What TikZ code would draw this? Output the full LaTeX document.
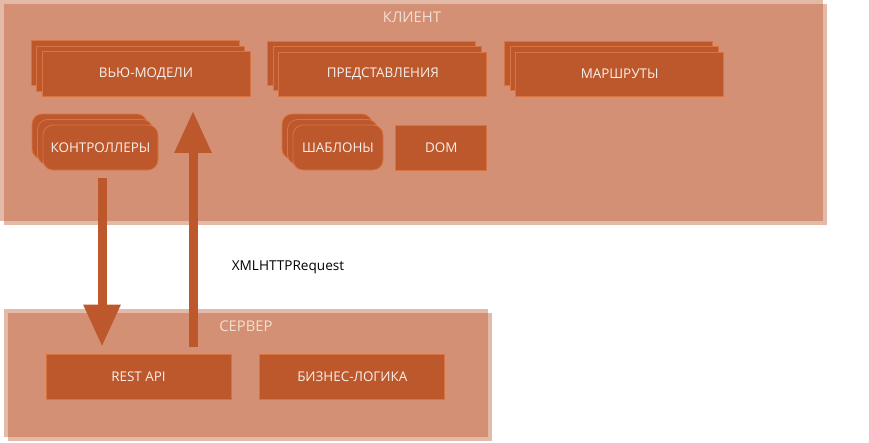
\documentclass[tikz,border=0pt]{standalone}
\usepackage{fontspec}
\setmainfont{Open Sans}
\usetikzlibrary{positioning,arrows.meta,shadows,calc}

\definecolor{rust}{HTML}{BD582D}
\definecolor{rustline}{HTML}{D9733F}
\definecolor{paletext}{HTML}{F8F0EC}
\definecolor{grouptext}{HTML}{F4DED4}

\begin{document}
\begin{tikzpicture}[x=1pt, y=-1pt, node distance=28pt,
		box/.style={draw=rustline, fill=rust, text=paletext, line width=0.8pt,
			minimum width=208pt, minimum height=45pt, inner sep=0pt,
			font=\fontsize{13.4}{15}\selectfont},
		pile/.style={double copy shadow={shadow xshift=-5.5pt, shadow yshift=5.5pt}},
		roundbox/.style={rounded corners=10pt},
		grouplabel/.style={text=grouptext, font=\fontsize{14.8}{17}\selectfont},
		bigarrow/.style={draw=rust, line width=9pt, -{Triangle[width=35pt,length=42pt]}}]
		\useasboundingbox (0,0) rectangle (869,442);

		% groups
		\fill[rust, fill opacity=0.42] (0,0) rectangle (823,221);
		\fill[rust, fill opacity=0.42] (4,4) rectangle (827,225);
		\fill[rust, fill opacity=0.42] (4,309) rectangle (488,437);
		\fill[rust, fill opacity=0.42] (8,313) rectangle (492,441);

		\node[grouplabel] (client) at (412,17) {КЛИЕНТ};
		\node[grouplabel] (server) at (246,326) {СЕРВЕР};

		% client
		\node[box, pile] (vm) at (146,74) {ВЬЮ-МОДЕЛИ};
		\node[box, pile, minimum height=44pt] (views) [right=of vm] {ПРЕДСТАВЛЕНИЯ};
		\node[box, pile, minimum height=44pt] (routes) [right=of views] {МАРШРУТЫ};

		\node[box, roundbox, pile, minimum width=115pt] (ctrl) at (100.5,147.5) {КОНТРОЛЛЕРЫ};
		\node[box, roundbox, pile, minimum width=90pt] (tpl) at (338,147.5) {ШАБЛОНЫ};
		\node[box, minimum width=91pt] (dom) [right=12pt of tpl] {DOM};

		% server
		\node[box, minimum width=185pt] (rest) at (138.5,376.5) {REST API};
		\node[box, minimum width=185pt] (logic) [right=of rest] {БИЗНЕС-ЛОГИКА};

		\node[font=\fontsize{13.6}{16}\selectfont] (xhr) at (288,267) {XMLHTTPRequest};

		\draw[bigarrow] ($(ctrl.south)+(1.5,8)$) -- ($(ctrl.south |- rest.north)+(1.5,-7)$);
		\draw[bigarrow] ($(rest.north)+(54.5,-7)$) -- ($(rest.north |- vm.south)+(54.5,14)$);
	\end{tikzpicture}
\end{document}
